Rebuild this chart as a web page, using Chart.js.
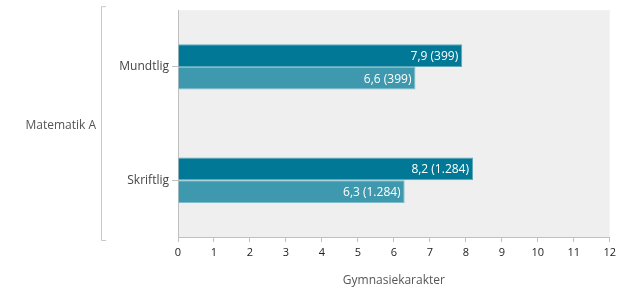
<!DOCTYPE html>
<html>
<head>
<meta charset="utf-8">
<script src="https://cdn.jsdelivr.net/npm/chart.js@4"></script>
<style>
  body { margin: 0; background: #fff; }
  #wrap { width: 620px; height: 288px; }
</style>
</head>
<body>
<div id="wrap"><canvas id="grades"></canvas></div>
<script>
// data
const groupLabel = "Matematik A";
const categories = ["Mundtlig", "Skriftlig"];
const seriesA = [7.9, 8.2];
const seriesB = [6.6, 6.3];
const countsA = ["399", "1.284"];
const countsB = ["399", "1.284"];
const xTicks = [0, 1, 2, 3, 4, 5, 6, 7, 8, 9, 10, 11, 12];

const FONT = "'Open Sans', 'DejaVu Sans', sans-serif";

// grey background behind the plot area
const plotBackground = {
    id: "plotBackground",
    beforeDraw(chart) {
        const a = chart.chartArea;
        const ctx = chart.ctx;
        ctx.save();
        ctx.fillStyle = "#efefef";
        ctx.fillRect(a.left, a.top, a.right - a.left, a.bottom - a.top);
        ctx.restore();
    }
};

// value labels inside the bar ends + group bracket on the left
const barLabels = {
    id: "barLabels",
    afterDatasetsDraw(chart) {
        const ctx = chart.ctx;
        ctx.save();
        ctx.font = "12px " + FONT;
        ctx.fillStyle = "#ffffff";
        ctx.textAlign = "right";
        ctx.textBaseline = "middle";
        chart.data.datasets.forEach(function (ds, i) {
            chart.getDatasetMeta(i).data.forEach(function (bar, j) {
                const txt = ds.data[j].toFixed(1).replace(".", ",") + " (" + ds.counts[j] + ")";
                ctx.fillText(txt, bar.x - 4, bar.y + 1);
            });
        });

        // bracket
        const a = chart.chartArea;
        ctx.strokeStyle = "#c8c8c8";
        ctx.lineWidth = 1;
        ctx.beginPath();
        ctx.moveTo(106, a.top - 3.5);
        ctx.lineTo(101.5, a.top - 3.5);
        ctx.lineTo(101.5, a.bottom + 3.5);
        ctx.lineTo(106, a.bottom + 3.5);
        ctx.stroke();

        ctx.font = "12px " + FONT;
        ctx.fillStyle = "#555555";
        ctx.textAlign = "right";
        ctx.fillText(groupLabel, 96, (a.top + a.bottom) / 2 + 2);
        ctx.restore();
    }
};

new Chart("grades", {
    type: "bar",
    data: {
        labels: categories,
        datasets: [
            {
                label: "A",
                data: seriesA,
                counts: countsA,
                backgroundColor: "#007896",
                borderColor: "#5fa9bd",
                borderWidth: 1,
                categoryPercentage: 0.4,
                barPercentage: 1.0
            },
            {
                label: "B",
                data: seriesB,
                counts: countsB,
                backgroundColor: "#3e98ae",
                borderColor: "#7fbccb",
                borderWidth: 1,
                categoryPercentage: 0.4,
                barPercentage: 1.0
            }
        ]
    },
    options: {
        indexAxis: "y",
        responsive: true,
        maintainAspectRatio: false,
        animation: false,
        layout: { padding: { top: 8, right: 7, left: 0, bottom: 0 } },
        plugins: {
            legend: { display: false },
            tooltip: { enabled: false }
        },
        scales: {
            x: {
                min: 0,
                max: 12,
                afterBuildTicks(scale) {
                    scale.ticks = xTicks.map(function (v) { return { value: v }; });
                },
                grid: { drawOnChartArea: false, drawTicks: true, tickLength: 5, color: "#c0c0c0" },
                border: { color: "#c0c0c0" },
                ticks: { color: "#222", font: { family: FONT, size: 11 }, padding: 4, maxRotation: 0 },
                title: { display: true, text: "Gymnasiekarakter", color: "#555", font: { family: FONT, size: 12 }, padding: { top: 4, bottom: 0 } },
                afterFit(scale) { scale.height = 51; }
            },
            y: {
                grid: { offset: false, drawOnChartArea: false, drawTicks: true, tickLength: 6, color: "#c0c0c0" },
                border: { color: "#c0c0c0" },
                ticks: { color: "#444", font: { family: FONT, size: 12 }, padding: 3 },
                afterFit(scale) { scale.width = 178; }
            }
        }
    },
    plugins: [plotBackground, barLabels]
});
</script>
</body>
</html>
